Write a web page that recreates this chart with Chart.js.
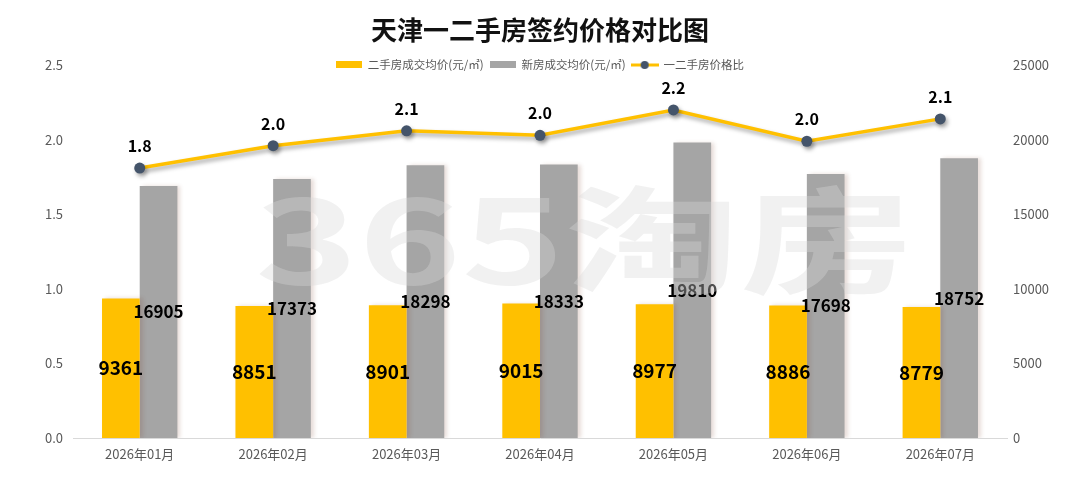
<!DOCTYPE html>
<html><head><meta charset="utf-8">
<script src="https://cdn.jsdelivr.net/npm/chart.js@4.4.1/dist/chart.umd.min.js"></script>
<style>html,body{margin:0;padding:0;background:#fff}#wrap{width:1080px;height:483px;position:relative}</style>
</head><body><div id="wrap"><canvas id="c"></canvas></div>
<script>
// ---- data ----
const categories = ['2026年01月','2026年02月','2026年03月','2026年04月','2026年05月','2026年06月','2026年07月'];
const secondHandPrice = [9361, 8851, 8901, 9015, 8977, 8886, 8779];
const newHomePrice = [16905, 17373, 18298, 18333, 19810, 17698, 18752];
const priceRatio = [1.81, 1.96, 2.06, 2.03, 2.20, 1.99, 2.14];
const seriesNames = ['二手房成交均价(元/㎡)', '新房成交均价(元/㎡)', '一二手房价格比'];
const titleText = '天津一二手房签约价格对比图';
const watermarkText = '365淘房';
const leftAxis = {min: 0, max: 2.5, step: 0.5};
const rightAxis = {min: 0, max: 25000, step: 5000};

// ---- styles ----
const YELLOW = '#FFC000', GRAY = '#A5A5A5', DOT = '#44546A', TXT = '#595959';
const FONT = '"Noto Sans CJK SC", "Noto Sans", sans-serif';
Chart.defaults.font.family = FONT;

function mk(w, h, draw) { const c = document.createElement('canvas'); c.width = w; c.height = h; draw(c.getContext('2d')); return c; }
const icoYellow = mk(26, 7, g => { g.fillStyle = YELLOW; g.fillRect(0, 0, 26, 7); });
const icoGray = mk(26, 7, g => { g.fillStyle = GRAY; g.fillRect(0, 0, 26, 7); });
const icoLine = mk(28, 12, g => { g.strokeStyle = YELLOW; g.lineWidth = 3; g.beginPath(); g.moveTo(0, 6); g.lineTo(28, 6); g.stroke(); g.fillStyle = DOT; g.beginPath(); g.arc(14, 6, 4, 0, Math.PI * 2); g.fill(); });
const icons = [icoYellow, icoGray, icoLine];

const LEGEND_H = 12;
const layoutPlugin = {
  id: 'layoutFix',
  afterInit(chart) {
    const lg = chart.legend;
    if (lg && !lg._patched) {
      const f = lg.fit;
      lg.fit = function () { f.call(this); this.height = LEGEND_H; };
      lg.draw = function () { if (this.options.display) { this._draw(); } };
      lg._patched = true;
    }
  }
};

const shadowPlugin = {
  id: 'shadows',
  beforeDatasetDraw(chart, args) {
    const ctx = chart.ctx; ctx.save();
    if (args.meta.type === 'line') { ctx.shadowColor = 'rgba(0,0,0,0.35)'; ctx.shadowBlur = 4; ctx.shadowOffsetX = 2; ctx.shadowOffsetY = 3; }
    else { ctx.shadowColor = 'rgba(120,60,40,0.18)'; ctx.shadowBlur = 4; ctx.shadowOffsetX = 3; ctx.shadowOffsetY = 0; }
  },
  afterDatasetDraw(chart) { chart.ctx.restore(); }
};

const labelPlugin = {
  id: 'valueLabels',
  afterDatasetsDraw(chart) {
    const ctx = chart.ctx; ctx.save();
    ctx.textAlign = 'center'; ctx.textBaseline = 'middle'; ctx.fillStyle = '#000';
    chart.data.datasets.forEach((ds, i) => {
      const meta = chart.getDatasetMeta(i);
      meta.data.forEach((el, j) => {
        const v = ds.data[j];
        if (meta.type === 'bar') {
          ctx.font = (i === 0 ? 'bold 19px ' : 'bold 17px ') + FONT;
          ctx.fillText(String(v), el.x, (el.y + el.base) / 2);
        } else {
          ctx.font = 'bold 16px ' + FONT;
          ctx.fillText(v.toFixed(1), el.x, el.y - 22);
        }
      });
    });
    ctx.restore();
  }
};

const watermarkPlugin = {
  id: 'watermark',
  afterDraw(chart) {
    const ctx = chart.ctx; ctx.save();
    ctx.font = 'bold 116px ' + FONT;
    const w = ctx.measureText(watermarkText).width;
    const sx = 660 / w;
    ctx.translate(255, 284); ctx.scale(sx, 1);
    ctx.textAlign = 'left'; ctx.textBaseline = 'alphabetic';
    ctx.fillStyle = 'rgba(215,215,215,0.36)';
    ctx.fillText(watermarkText, 0, 0);
    ctx.restore();
  }
};

new Chart(document.getElementById('c'), {
  data: {
    labels: categories,
    datasets: [
      { type: 'bar', label: seriesNames[0], data: secondHandPrice, backgroundColor: YELLOW, yAxisID: 'yR', order: 1, barPercentage: 1, categoryPercentage: 0.565 },
      { type: 'bar', label: seriesNames[1], data: newHomePrice, backgroundColor: GRAY, yAxisID: 'yR', order: 1, barPercentage: 1, categoryPercentage: 0.565 },
      { type: 'line', label: seriesNames[2], data: priceRatio, borderColor: YELLOW, borderWidth: 3.5, pointRadius: 5.5, pointBackgroundColor: DOT, pointBorderColor: DOT, pointBorderWidth: 0, tension: 0, yAxisID: 'yL', order: 0 }
    ]
  },
  options: {
    responsive: true, maintainAspectRatio: false, animation: false,
    layout: { padding: { top: 0, left: 0, right: 0, bottom: 0 } },
    plugins: {
      tooltip: { enabled: false },
      title: { display: true, text: titleText, color: '#111', font: { size: 26, weight: 'bold', family: FONT }, padding: { top: 15, bottom: 7 } },
      legend: {
        display: true, position: 'top',
        labels: {
          usePointStyle: true, pointStyleWidth: 26, padding: 6, color: TXT, font: { size: 11.5, family: FONT },
          sort: (a, b) => a.datasetIndex - b.datasetIndex,
          generateLabels(chart) {
            return chart.data.datasets.map((ds, i) => ({ text: ds.label, datasetIndex: i, pointStyle: icons[i], fillStyle: 'transparent', strokeStyle: 'transparent', lineWidth: 0, fontColor: TXT, hidden: false }));
          }
        }
      }
    },
    scales: {
      x: {
        grid: { display: false, drawTicks: false },
        border: { display: true, color: '#D9D9D9', width: 1 },
        ticks: { color: TXT, font: { size: 13 }, padding: 8 },
        afterFit(s) { s.height = 45; }
      },
      yL: {
        position: 'left', min: leftAxis.min, max: leftAxis.max,
        grid: { display: false, drawTicks: false }, border: { display: false },
        ticks: { stepSize: leftAxis.step, color: TXT, font: { size: 13 }, padding: 10, callback: v => v.toFixed(1) },
        afterFit(s) { s.width = 73; }
      },
      yR: {
        position: 'right', min: rightAxis.min, max: rightAxis.max,
        grid: { display: false, drawTicks: false }, border: { display: false },
        ticks: { stepSize: rightAxis.step, color: TXT, font: { size: 13 }, padding: 6, callback: v => String(v) },
        afterFit(s) { s.width = 73; }
      }
    }
  },
  plugins: [layoutPlugin, shadowPlugin, labelPlugin, watermarkPlugin]
});
</script></body></html>
